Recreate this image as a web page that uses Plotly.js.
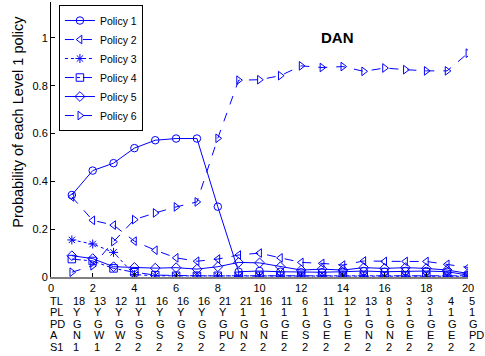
<!DOCTYPE html>
<html>
<head>
<meta charset="utf-8">
<script src="https://cdn.plot.ly/plotly-3.0.1.min.js"></script>
<style>html,body{margin:0;padding:0;background:#fff;}#chart{width:485px;height:356px;}</style>
</head>
<body>
<div id="chart"></div>
<script>
// ---- data ----
var steps = [1,2,3,4,5,6,7,8,9,10,11,12,13,14,15,16,17,18,19,20];
var policy1 = [0.343,0.445,0.476,0.539,0.572,0.579,0.579,0.294,0.022,0.025,0.022,0.020,0.020,0.022,0.025,0.022,0.025,0.025,0.022,0.008];
var policy2 = [0.335,0.237,0.217,0.150,0.112,0.080,0.066,0.075,0.092,0.100,0.080,0.061,0.057,0.050,0.067,0.065,0.065,0.065,0.053,0.040];
var policy3 = [0.155,0.138,0.103,0.010,0.005,0.005,0.005,0.004,0.003,0.003,0.003,0.003,0.003,0.003,0.003,0.003,0.003,0.003,0.003,0.003];
var policy4 = [0.075,0.067,0.036,0.020,0.008,0.005,0.005,0.005,0.005,0.005,0.005,0.005,0.005,0.005,0.005,0.005,0.005,0.005,0.005,0.005];
var policy5 = [0.089,0.077,0.043,0.040,0.037,0.039,0.033,0.043,0.061,0.059,0.043,0.029,0.033,0.029,0.039,0.036,0.039,0.036,0.029,0.015];
var policy6 = [0.020,0.047,0.148,0.240,0.268,0.293,0.314,0.580,0.823,0.825,0.842,0.883,0.876,0.880,0.860,0.874,0.867,0.862,0.862,0.936];
var seriesNames = ["Policy 1","Policy 2","Policy 3","Policy 4","Policy 5","Policy 6"];

// table rows under the x axis
var rowHeaders = ["TL","PL","PD","A","S1"];
var rowTL = ["18","13","12","11","16","16","16","21","21","16","11","6","11","12","13","8","3","3","4","5"];
var rowPL = ["Y","Y","Y","Y","Y","Y","Y","Y","1","1","1","1","1","1","1","1","1","1","1","1"];
var rowPD = ["G","G","G","G","G","G","G","G","G","G","G","G","G","G","G","G","G","G","G","G"];
var rowA  = ["N","W","W","S","S","S","S","PU","N","N","E","S","E","E","N","N","E","E","E","PD"];
var rowS1 = ["1","1","2","2","2","2","2","2","2","2","2","2","2","2","2","2","2","2","2","2"];
var chartLabel = "DAN";
var yTitle = "Probability of each Level 1 policy";

// ---- styles ----
var blue = "#0000ff";
var styles = [
  {dash:"solid",   symbol:"circle-open"},
  {dash:"dash",    symbol:"triangle-left-open"},
  {dash:"dot",     symbol:"asterisk-open"},
  {dash:"dashdot", symbol:"square-open"},
  {dash:"solid",   symbol:"diamond-open"},
  {dash:"dash",    symbol:"triangle-right-open"}
];
var allSeries = [policy1,policy2,policy3,policy4,policy5,policy6];
var traces = allSeries.map(function(vals,i){
  return {
    x: steps, y: vals, name: seriesNames[i], type:"scatter", mode:"lines+markers",
    line:{color:blue, width:1, dash:styles[i].dash},
    marker:{symbol:styles[i].symbol, size:7.5, color:blue, line:{color:blue, width:1}}
  };
});

var font = "Liberation Sans, Arial, sans-serif";
var annotations = [];
var rows = [rowTL,rowPL,rowPD,rowA,rowS1];
var rowShift = [-23.5,-35,-46.5,-58,-69.5];
rows.forEach(function(r,ri){
  annotations.push({xref:"paper", yref:"paper", x:-0.006, y:0, xanchor:"left", yanchor:"middle",
    yshift:rowShift[ri], text:rowHeaders[ri], showarrow:false, font:{family:font,size:11,color:"#000"}});
  r.forEach(function(t,ci){
    annotations.push({xref:"x", yref:"paper", x:steps[ci]-0.05, y:0, xanchor:"left", yanchor:"middle",
      yshift:rowShift[ri], text:t, showarrow:false, font:{family:font,size:11,color:"#000"}});
  });
});
annotations.push({xref:"x", yref:"y", x:13.75, y:1.0, text:"<b>"+chartLabel+"</b>", showarrow:false,
  font:{family:font,size:15,color:"#000"}});
// y axis title (placed like the reference, off-centre)
annotations.push({xref:"paper", yref:"paper", x:-0.079, y:0.565, xanchor:"center", yanchor:"middle",
  textangle:-90, text:yTitle, showarrow:false, font:{family:font,size:14.5,color:"#000"}});

var layout = {
  width:485, height:356,
  margin:{l:51, r:17, t:2, b:79, pad:0},
  paper_bgcolor:"#fff", plot_bgcolor:"#fff",
  font:{family:font, size:11, color:"#000"},
  showlegend:true,
  legend:{x:0.019, y:0.989, xanchor:"left", yanchor:"top", bgcolor:"#fff",
    bordercolor:"#000", borderwidth:1, font:{family:font,size:10.5,color:"#000"}},
  xaxis:{range:[0,20], tickvals:[0,2,4,6,8,10,12,14,16,18,20], ticks:"inside", ticklen:4,
    tickcolor:"#000", showgrid:false, zeroline:false, showline:true, linecolor:"#808080", linewidth:2,
    tickfont:{family:font,size:11,color:"#000"}, fixedrange:true},
  yaxis:{range:[0,1.15], tickvals:[0,0.2,0.4,0.6,0.8,1], ticktext:["0","0.2","0.4","0.6","0.8","1"],
    ticks:"inside", ticklen:4, tickcolor:"#000", showgrid:false, zeroline:false, showline:true,
    linecolor:"#000", linewidth:1, tickfont:{family:font,size:11,color:"#000"}},
  annotations:annotations
};
Plotly.newPlot("chart", traces, layout, {staticPlot:true, displayModeBar:false});
</script>
</body>
</html>
